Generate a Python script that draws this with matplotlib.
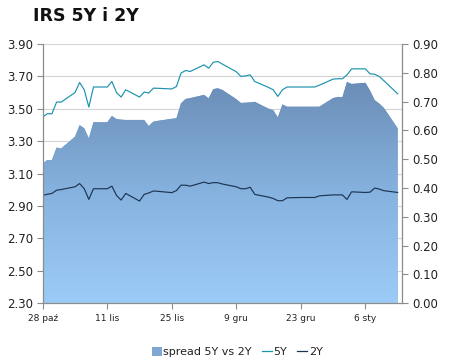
import numpy as np
import pandas as pd
import matplotlib
matplotlib.use("Agg")
import matplotlib.pyplot as plt
import matplotlib.dates as mdates
from matplotlib.colors import LinearSegmentedColormap
from matplotlib.patches import Patch
from matplotlib.lines import Line2D

# business days 28 Oct 2013 .. 13 Jan 2014
dates = pd.bdate_range("2013-10-28", "2014-01-13")

irs_5y = [
    3.449, 3.469, 3.469, 3.541, 3.541,
    3.600, 3.662, 3.617, 3.510, 3.634,
    3.634, 3.668, 3.600, 3.572, 3.617,
    3.572, 3.603, 3.597, 3.627, 3.626,
    3.622, 3.637, 3.720, 3.736, 3.730,
    3.771, 3.750, 3.787, 3.791, 3.775,
    3.728, 3.699, 3.703, 3.709, 3.668,
    3.631, 3.617, 3.576, 3.617, 3.634,
    3.634, 3.634, 3.634, 3.634, 3.645,
    3.683, 3.685, 3.685, 3.709, 3.746,
    3.746, 3.715, 3.713, 3.699, 3.673,
    3.592,
]
irs_2y = [
    2.965, 2.972, 2.977, 2.997, 3.001,
    3.018, 3.038, 3.006, 2.940, 3.006,
    3.006, 3.022, 2.965, 2.936, 2.977,
    2.930, 2.971, 2.980, 2.992, 2.990,
    2.982, 2.995, 3.028, 3.028, 3.022,
    3.047, 3.038, 3.044, 3.043, 3.035,
    3.018, 3.006, 3.006, 3.015, 2.971,
    2.954, 2.946, 2.932, 2.932, 2.950,
    2.952, 2.952, 2.952, 2.952, 2.962,
    2.968, 2.968, 2.968, 2.940, 2.987,
    2.983, 2.985, 3.010, 3.004, 2.994,
    2.983,
]
spread = [
    0.485, 0.497, 0.497, 0.540, 0.537,
    0.578, 0.618, 0.607, 0.572, 0.628,
    0.628, 0.650, 0.639, 0.637, 0.636,
    0.636, 0.636, 0.615, 0.630, 0.633,
    0.640, 0.642, 0.694, 0.709, 0.712,
    0.723, 0.711, 0.743, 0.746, 0.740,
    0.708, 0.695, 0.696, 0.697, 0.699,
    0.675, 0.670, 0.645, 0.690, 0.682,
    0.682, 0.682, 0.682, 0.682, 0.682,
    0.712, 0.716, 0.715, 0.768, 0.761,
    0.765, 0.738, 0.705, 0.693, 0.678,
    0.607,
]

tick_dates = ["2013-10-28", "2013-11-11", "2013-11-25", "2013-12-09", "2013-12-23", "2014-01-06"]
tick_labels = ["28 paź", "11 lis", "25 lis", "9 gru", "23 gru", "6 sty"]
left_ticks = [2.30, 2.50, 2.70, 2.90, 3.10, 3.30, 3.50, 3.70, 3.90]
right_ticks = [0.0, 0.1, 0.2, 0.3, 0.4, 0.5, 0.6, 0.7, 0.8, 0.9]
left_lim = (2.30, 3.90)
right_lim = (0.0, 0.9)

axis_col = "#8c8c8c"
grid_col = "#d4d4d4"
txt_col = "#222222"
c5 = "#1c93ad"
c2 = "#1d3553"

plt.rcParams["axes.grid"] = False

rect = [0.095, 0.165, 0.799, 0.714]
fig = plt.figure(figsize=(4.5, 3.63), dpi=100)

# bottom layer: gridlines only
axg = fig.add_axes(rect, zorder=0)
axg.set_ylim(*left_lim)
for v in left_ticks[1:]:
    axg.axhline(v, color=grid_col, lw=0.8)
axg.set_xticks([])
axg.set_yticks([])
for s in axg.spines.values():
    s.set_visible(False)

# middle layer: spread area on right axis
ax2 = fig.add_axes(rect, zorder=1)
ax2.patch.set_visible(False)
# top layer: rate lines on left axis
ax = fig.add_axes(rect, zorder=2, sharex=ax2)
ax.patch.set_visible(False)

x = mdates.date2num(dates)
xmin = mdates.date2num(pd.Timestamp("2013-10-28"))
xmax = mdates.date2num(pd.Timestamp("2014-01-14"))

# opaque base fill, gradient image clipped to it on top
poly = ax2.fill_between(x, spread, 0, facecolor="#7aa2cd", edgecolor="none", zorder=1)
cmap = LinearSegmentedColormap.from_list("g", ["#9dcbf8", "#86b2df", "#6a8db6"])
grad = np.linspace(0, 1, 256).reshape(-1, 1)
top = max(spread)
im = ax2.imshow(grad, extent=[xmin, xmax, 0, top], origin="lower",
                aspect="auto", cmap=cmap, interpolation="bilinear", zorder=2)
im.set_clip_path(poly.get_paths()[0], transform=ax2.transData)

ax.plot(x, irs_5y, color=c5, lw=0.85)
ax.plot(x, irs_2y, color=c2, lw=0.85)

ax.set_ylim(*left_lim)
ax2.set_ylim(*right_lim)
ax2.set_xlim(xmin, xmax)
axg.set_xlim(xmin, xmax)

ax.set_yticks(left_ticks)
ax.set_yticklabels([f"{v:.2f}" for v in left_ticks])
ax2.yaxis.tick_right()
ax2.set_yticks(right_ticks)
ax2.set_yticklabels([f"{v:.2f}" for v in right_ticks])
ax2.set_xticks(mdates.date2num(pd.to_datetime(tick_dates)))
ax2.set_xticklabels(tick_labels)
ax.tick_params(axis="x", bottom=False, labelbottom=False)
for a in (ax, ax2, axg):
    a.grid(False)

ax.tick_params(axis="y", direction="out", length=4, color=axis_col,
               labelsize=8.5, labelcolor=txt_col, pad=3)
ax2.tick_params(axis="y", direction="out", length=4, color=axis_col,
                labelsize=8.5, labelcolor=txt_col, pad=3)
ax2.tick_params(axis="x", direction="out", length=4, color=axis_col,
                labelsize=6.5, labelcolor=txt_col, pad=4)

for a in (ax, ax2):
    for s in a.spines.values():
        s.set_color(axis_col)
        s.set_linewidth(0.9)
        s.set_visible(False)
ax.spines["left"].set_visible(True)
ax2.spines["right"].set_visible(True)
ax2.spines["bottom"].set_visible(True)

fig.text(33 / 450, 1 - 16 / 363, "IRS 5Y i 2Y", fontsize=12.5,
         fontweight="bold", color="#111111", va="center", ha="left")

handles = [
    Patch(facecolor="#7fa7d3", edgecolor="none"),
    Line2D([], [], color=c5, lw=0.9),
    Line2D([], [], color=c2, lw=0.9),
]
fig.legend(handles, ["spread 5Y vs 2Y", "5Y", "2Y"], loc="center",
           bbox_to_anchor=(0.527, 0.03), ncol=3, frameon=False, fontsize=8,
           handlelength=0.9, handleheight=0.9, handletextpad=0.15,
           columnspacing=0.9, labelcolor=txt_col)

fig.savefig("out.png", dpi=100)
